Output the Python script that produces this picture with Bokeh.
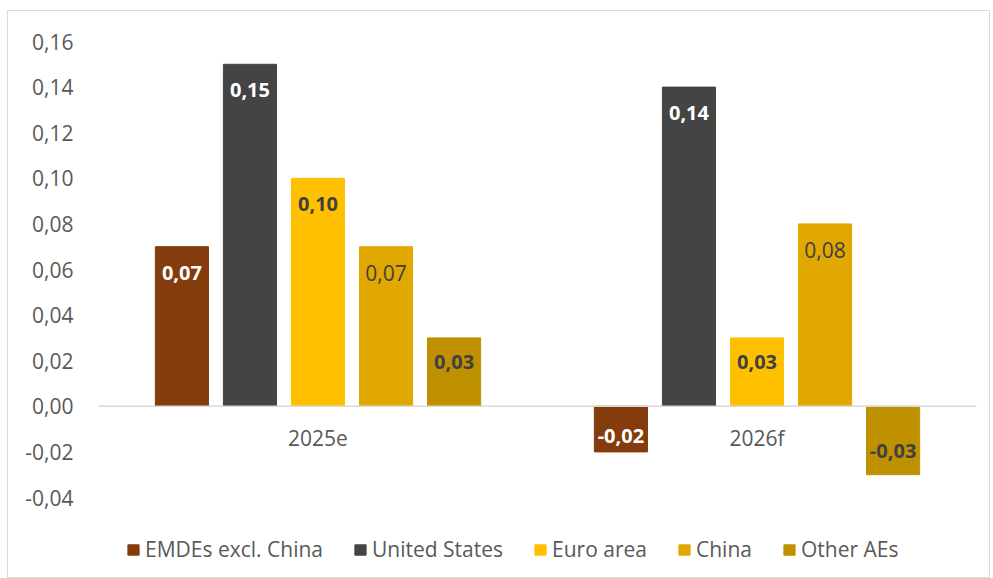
from bokeh.plotting import figure
from bokeh.models import ColumnDataSource, Range1d, FixedTicker, CustomJSTickFormatter, Legend, LegendItem, Span
from bokeh.transform import dodge
from bokeh.core.properties import value
from bokeh.embed import file_html
from bokeh.resources import INLINE

categories = ["2025e", "2026f"]
series_names = ["EMDEs excl. China", "United States", "Euro area", "China", "Other AEs"]
emdes = [0.07, -0.02]
united_states = [0.15, 0.14]
euro_area = [0.10, 0.03]
china = [0.07, 0.08]
other_aes = [0.03, -0.03]
y_ticks = [-0.04, -0.02, 0.0, 0.02, 0.04, 0.06, 0.08, 0.10, 0.12, 0.14, 0.16]

series_values = [emdes, united_states, euro_area, china, other_aes]
colors = ["#843C0C", "#444444", "#FFC000", "#E0A800", "#BF9000"]
label_colors = ["#FFFFFF", "#FFFFFF", "#404040", "#404040", "#404040"]
label_styles = ["bold", "bold", "bold", "normal", "bold"]

FONT = "Open Sans"
FIG_H = 568
TOP, BOTTOM = 30, 4
FRAME_H = FIG_H - TOP - BOTTOM
Y1 = y_ticks[-1]
px_per_unit = 456 / (y_ticks[-1] - y_ticks[0])
Y0 = Y1 - FRAME_H / px_per_unit  # extra room under the axis for the legend

p = figure(x_range=categories, y_range=Range1d(Y0, Y1), width=983, height=FIG_H,
           output_backend="svg", toolbar_location=None, x_axis_location=None,
           min_border_left=90, min_border_right=15, min_border_top=TOP, min_border_bottom=BOTTOM)
p.styles = {"border": "1px solid #D9D9D9", "box-sizing": "border-box",
            "margin-left": "7px", "margin-top": "10px"}
p.outline_line_color = None
p.xgrid.grid_line_color = None
p.ygrid.grid_line_color = None

# zero baseline (category axis line)
p.add_layout(Span(location=0, dimension="width", line_color="#D9D9D9", line_width=1.5))

step = 0.155
bar_w = 0.121
items = []
for i, (name, vals) in enumerate(zip(series_names, series_values)):
    off = (i - 2) * step
    labels = [f"{v:.2f}".replace(".", ",") for v in vals]
    yoff = [min(26, 0.35 * abs(v) * px_per_unit) * (1 if v > 0 else -1) for v in vals]
    src = ColumnDataSource(dict(x=categories, top=vals, label=labels, yoff=yoff))
    r = p.vbar(x=dodge("x", off, range=p.x_range), top="top", bottom=0, width=bar_w,
               source=src, fill_color=colors[i], line_color=colors[i])
    p.text(x=dodge("x", off, range=p.x_range), y="top", text="label", y_offset="yoff",
           source=src, text_align="center", text_baseline="middle",
           text_font=value(FONT), text_font_size="20px" if label_styles[i] == "bold" else "21px",
           text_font_style=label_styles[i], text_color=label_colors[i])
    items.append(LegendItem(label=name, renderers=[r]))

# category labels under the baseline
cat_src = ColumnDataSource(dict(x=categories, y=[0] * len(categories)))
p.text(x="x", y="y", text="x", source=cat_src, y_offset=32,
       text_align="center", text_baseline="middle",
       text_font=value(FONT), text_font_size="21px", text_color="#595959")

ya = p.yaxis[0]
ya.ticker = FixedTicker(ticks=y_ticks)
ya.formatter = CustomJSTickFormatter(code="return tick.toFixed(2).replace('.', ',');")
ya.axis_line_color = None
ya.major_tick_line_color = None
ya.minor_tick_line_color = None
ya.major_label_standoff = 19
ya.major_label_text_font = FONT
ya.major_label_text_font_size = "21px"
ya.major_label_text_color = "#595959"

legend = Legend(items=items, orientation="horizontal", location=(28, 12),
                label_text_font=FONT, label_text_font_size="21px", label_text_color="#595959",
                glyph_width=14, glyph_height=13, spacing=30, label_standoff=5,
                border_line_color=None, background_fill_alpha=0, padding=0, margin=0)
p.add_layout(legend, "center")

open("out.html", "w").write(file_html(p, INLINE))
